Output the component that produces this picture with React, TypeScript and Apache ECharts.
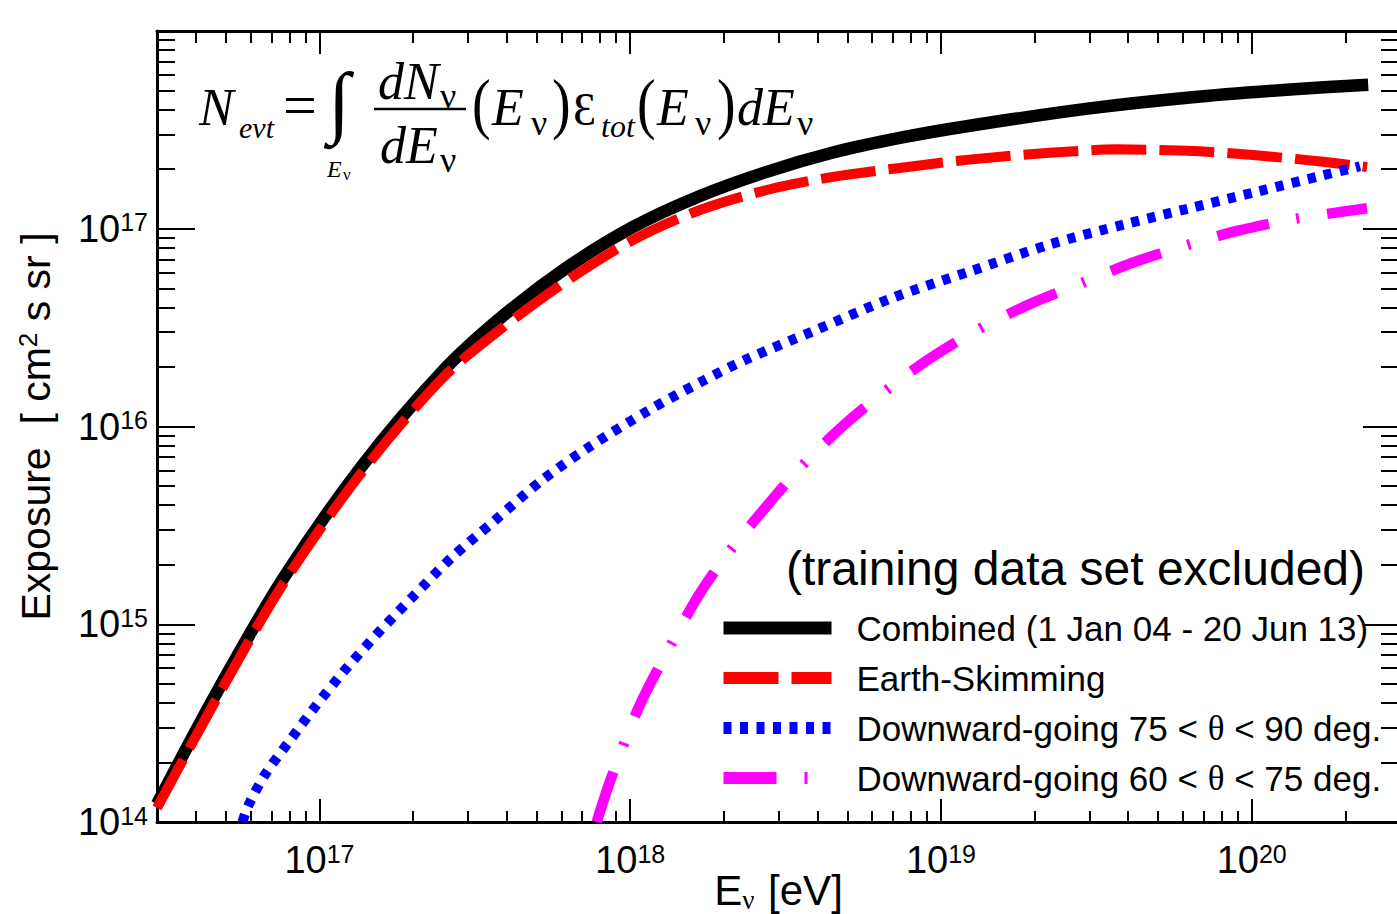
import React, { useEffect, useRef } from "react";
import * as echarts from "echarts";

// Neutrino energy [eV] and exposure [cm^2 s sr] for each channel
const combinedEnergy = [3.0e16, 4.66e16, 7.6e16, 1.37e17, 2.49e17, 3.8e17, 6.24e17, 1.02e18, 1.67e18, 2.75e18, 4.49e18, 7.36e18, 1.21e19, 3.01e19, 6.32e19, 1.33e20, 2.37e20];
const combinedExposure = [1.23e14, 4.49e14, 1.68e15, 6.31e15, 1.9e16, 3.51e16, 6.35e16, 1.02e17, 1.46e17, 1.94e17, 2.43e17, 2.88e17, 3.3e17, 4.06e17, 4.61e17, 5.06e17, 5.35e17];

const skimmingEnergy = [3.0e16, 4.66e16, 7.6e16, 1.37e17, 2.49e17, 3.8e17, 6.24e17, 1.02e18, 1.67e18, 2.75e18, 4.49e18, 7.36e18, 1.21e19, 2.24e19, 3.69e19, 6.19e19, 1.01e20, 1.7e20, 2.35e20];
const skimmingExposure = [1.18e14, 4.19e14, 1.58e15, 5.89e15, 1.76e16, 3.08e16, 5.44e16, 8.77e16, 1.24e17, 1.57e17, 1.83e17, 2.03e17, 2.23e17, 2.42e17, 2.52e17, 2.48e17, 2.36e17, 2.18e17, 2.05e17];

const dg7590Energy = [5.65e16, 5.9e16, 6.7e16, 8.07e16, 9.71e16, 1.2e17, 1.53e17, 1.99e17, 2.66e17, 3.66e17, 5.15e17, 7.45e17, 1.15e18, 1.7e18, 2.37e18, 3.89e18, 7.0e18, 1.25e19, 2.22e19, 3.96e19, 6.32e19, 1.04e20, 1.69e20, 2.23e20];
const dg7590Exposure = [1.0e14, 1.21e14, 1.75e14, 2.61e14, 3.85e14, 5.8e14, 8.91e14, 1.37e15, 2.17e15, 3.34e15, 5.29e15, 7.96e15, 1.21e16, 1.69e16, 2.19e16, 3.04e16, 4.48e16, 6.11e16, 8.3e16, 1.06e17, 1.27e17, 1.54e17, 1.86e17, 2.07e17];

const dg6075Energy = [7.8e17, 8.71e17, 1.07e18, 1.34e18, 1.67e18, 2.1e18, 2.65e18, 3.49e18, 4.75e18, 6.44e18, 9.14e18, 1.29e19, 1.9e19, 2.8e19, 4.11e19, 6.05e19, 8.96e19, 1.37e20, 2.35e20];
const dg6075Exposure = [1.0e14, 1.69e14, 3.86e14, 7.67e14, 1.42e15, 2.37e15, 3.7e15, 6.1e15, 9.82e15, 1.46e16, 2.19e16, 3.04e16, 4.11e16, 5.26e16, 6.71e16, 8.18e16, 9.75e16, 1.12e17, 1.27e17];

const seriesNames = [
  "Combined (1 Jan 04 - 20 Jun 13)",
  "Earth-Skimming",
  "Downward-going 75 < θ < 90 deg.",
  "Downward-going 60 < θ < 75 deg.",
];

// Axis ranges and tick values
const X_MIN = 3e16;
const X_MAX = 3e20;
const Y_MIN = 1e14;
const Y_MAX = 1e18;
const xMajorTicks = [1e17, 1e18, 1e19, 1e20];
const yMajorTicks = [1e14, 1e15, 1e16, 1e17, 1e18];

function minorTicksBetween(min: number, max: number): number[] {
  const out: number[] = [];
  for (let p = Math.floor(Math.log10(min)); p <= Math.ceil(Math.log10(max)); p++) {
    for (let m = 2; m <= 9; m++) {
      const v = m * Math.pow(10, p);
      if (v > min * 1.0001 && v < max * 0.9999) out.push(v);
    }
  }
  return out;
}
const xMinorTicks = minorTicksBetween(X_MIN, X_MAX);
const yMinorTicks = minorTicksBetween(Y_MIN, Y_MAX);

const SANS = "'Liberation Sans', Arial, Helvetica, sans-serif";
const NARROW = "'Liberation Sans Narrow', 'Liberation Sans', Arial, sans-serif";
const SERIF = "'Liberation Serif', 'Times New Roman', 'DejaVu Serif', serif";

const pair = (xs: number[], ys: number[]) => xs.map((x, i) => [x, ys[i]]);

const powLabel = (v: number) => `{b|10}{s|${Math.round(Math.log10(v))}}`;
const powRich = {
  b: { fontFamily: NARROW, fontSize: 38, lineHeight: 38, color: "#000" },
  s: { fontFamily: SANS, fontSize: 25, lineHeight: 26, verticalAlign: "top", color: "#000" },
};

// Text piece of the formula, placed by its baseline
function eq(text: string, x: number, base: number, size: number, italic: boolean, stretchY = 1) {
  return {
    type: "text",
    x,
    y: base - 0.3375 * size * stretchY,
    scaleY: stretchY,
    silent: true,
    style: {
      text,
      fontFamily: SERIF,
      fontSize: size,
      fontStyle: italic ? "italic" : "normal",
      fill: "#000",
      align: "left",
      verticalAlign: "middle",
    },
  };
}

export default function App() {
  const ref = useRef<HTMLDivElement>(null);

  useEffect(() => {
    if (!ref.current) return;
    const chart = echarts.init(ref.current, undefined, { renderer: "svg" });

    const tick = (len: number, values: number[]) => ({
      show: true,
      inside: true,
      length: len,
      customValues: values,
      lineStyle: { color: "#000", width: 2 },
    });

    const xAxisBase = {
      type: "log" as const,
      logBase: 10,
      min: X_MIN,
      max: X_MAX,
      splitLine: { show: false },
      minorTick: { show: false },
    };
    const yAxisBase = {
      type: "log" as const,
      logBase: 10,
      min: Y_MIN,
      max: Y_MAX,
      splitLine: { show: false },
      minorTick: { show: false },
    };
    const line = { show: true, lineStyle: { color: "#000", width: 3 } };
    const noLine = { show: false };

    const curve = (name: string, data: number[][], color: string, width: number, type: any, z: number) => ({
      name,
      type: "line",
      data,
      symbol: "none",
      smooth: 0.3,
      itemStyle: { color },
      lineStyle: { color, width, type, cap: "butt" },
      z,
    });

    const option: any = {
      animation: false,
      backgroundColor: "#fff",
      grid: {
        left: 157,
        top: 31,
        width: 1243,
        height: 791,
        containLabel: false,
        outerBoundsMode: "none",
      },
      xAxis: [
        {
          ...xAxisBase,
          position: "bottom",
          axisLine: line,
          axisTick: tick(23, xMajorTicks),
          axisLabel: {
            customValues: xMajorTicks,
            formatter: powLabel,
            rich: powRich,
            margin: 19,
            color: "#000",
          },
          name: "{t|E}{n|ν}{t| [eV]}",
          nameLocation: "middle",
          nameGap: 46,
          nameMoveOverlap: false,
          nameTextStyle: {
            rich: {
              t: { fontFamily: SANS, fontSize: 42, color: "#000" },
              n: { fontFamily: SERIF, fontSize: 27, color: "#000", padding: [18, 2, 0, 0] },
            },
          },
        },
        { ...xAxisBase, position: "bottom", axisLine: noLine, axisTick: tick(11, xMinorTicks), axisLabel: { show: false } },
        { ...xAxisBase, position: "top", axisLine: line, axisTick: tick(23, xMajorTicks), axisLabel: { show: false } },
        { ...xAxisBase, position: "top", axisLine: noLine, axisTick: tick(12, xMinorTicks), axisLabel: { show: false } },
      ],
      yAxis: [
        {
          ...yAxisBase,
          position: "left",
          axisLine: line,
          axisTick: tick(38, yMajorTicks),
          axisLabel: {
            customValues: yMajorTicks,
            formatter: powLabel,
            rich: powRich,
            margin: 9,
            color: "#000",
          },
          name: "{t|Exposure  [ cm}{p|2}{t| s sr ]}",
          nameLocation: "middle",
          nameRotate: 90,
          nameGap: 100,
          nameMoveOverlap: false,
          nameTextStyle: {
            rich: {
              t: { fontFamily: SANS, fontSize: 41, color: "#000" },
              p: { fontFamily: SANS, fontSize: 26, color: "#000", padding: [0, 0, 16, 0] },
            },
          },
        },
        { ...yAxisBase, position: "left", axisLine: noLine, axisTick: tick(18, yMinorTicks), axisLabel: { show: false } },
        { ...yAxisBase, position: "right", axisLine: line, axisTick: tick(37, yMajorTicks), axisLabel: { show: false } },
        { ...yAxisBase, position: "right", axisLine: noLine, axisTick: tick(19, yMinorTicks), axisLabel: { show: false } },
      ],
      legend: {
        orient: "vertical",
        left: 717,
        top: 608,
        padding: 0,
        itemWidth: 108,
        itemHeight: 14,
        itemGap: 10,
        selectedMode: false,
        itemStyle: { opacity: 0 },
        formatter: (name: string) => name.replace(/θ/g, "{g|θ}"),
        textStyle: {
          fontFamily: SANS,
          fontSize: 35,
          lineHeight: 40,
          color: "#000",
          padding: [0, 0, 0, 20],
          rich: {
            g: { fontFamily: SERIF, fontSize: 35, lineHeight: 40, color: "#000" },
          },
        },
        data: [
          { name: seriesNames[0], lineStyle: { width: 13 } },
          { name: seriesNames[1], lineStyle: { width: 12 } },
          { name: seriesNames[2], lineStyle: { width: 12 } },
          { name: seriesNames[3], lineStyle: { width: 12 } },
        ],
      },
      series: [
        curve(seriesNames[0], pair(combinedEnergy, combinedExposure), "#000000", 12.5, "solid", 2),
        curve(seriesNames[1], pair(skimmingEnergy, skimmingExposure), "#ff0000", 10, [55, 13], 3),
        curve(seriesNames[2], pair(dg7590Energy, dg7590Exposure), "#0000ff", 10, [8, 8.5], 4),
        curve(seriesNames[3], pair(dg6075Energy, dg6075Exposure), "#ff00ff", 10.5, [53, 28, 3, 28], 5),
      ],
      graphic: [
        {
          type: "text",
          right: 32,
          top: 544,
          silent: true,
          style: {
            text: "(training data set excluded)",
            fontFamily: SANS,
            fontSize: 48,
            fill: "#000",
          },
        },
        // N_evt = ∫ dN/dE (E) ε_tot(E) dE
        eq("N", 199, 125, 52, true),
        eq("evt", 239, 138, 30, true),
        eq("=", 283, 125, 60, false),
        eq("∫", 328, 128, 80, false),
        eq("E", 327, 177, 24, true),
        eq("ν", 343, 180, 17, false),
        eq("dN", 378, 99, 52, true),
        eq("ν", 440, 108, 36, false),
        {
          type: "line",
          silent: true,
          shape: { x1: 374, y1: 109, x2: 466, y2: 109 },
          style: { stroke: "#000", lineWidth: 2.5 },
        },
        eq("dE", 380, 163, 52, true),
        eq("ν", 440, 172, 36, false),
        eq("(", 472, 126, 56, false, 1.2),
        eq("E", 492, 125, 52, true),
        eq("ν", 531, 135, 36, false),
        eq(")", 552, 126, 56, false, 1.2),
        eq("Ɛ", 573, 125, 46, false),
        eq("tot", 601, 137, 32, true),
        eq("(", 637, 126, 56, false, 1.2),
        eq("E", 657, 125, 52, true),
        eq("ν", 695, 135, 36, false),
        eq(")", 717, 126, 56, false, 1.2),
        eq("dE", 737, 125, 52, true),
        eq("ν", 797, 135, 36, false),
      ],
    };

    chart.setOption(option);
    return () => chart.dispose();
  }, []);

  return (
    <div
      ref={ref}
      style={{ position: "fixed", left: 0, top: 0, width: 1397, height: 914, background: "#fff" }}
    />
  );
}
